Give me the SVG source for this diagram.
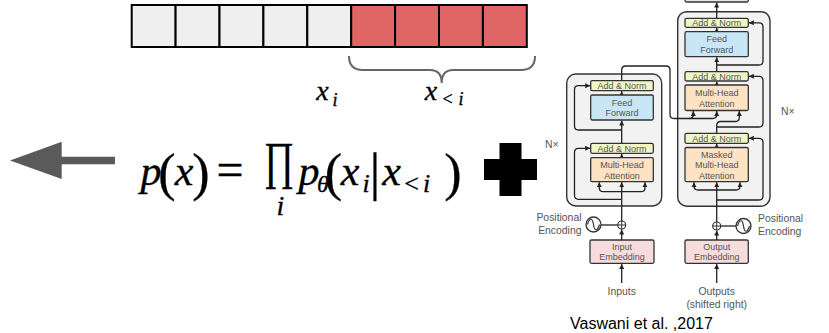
<svg xmlns="http://www.w3.org/2000/svg" width="829" height="333" viewBox="0 0 829 333">
<style>
.cell{stroke:#000;stroke-width:2}
.g{fill:#efefef}.r{fill:#e06666}
.outer{fill:#f2f2f2;stroke:#333;stroke-width:1.4}
.blk{stroke:#333;stroke-width:1.3}
.an{fill:#f1f6c6}.ff{fill:#c8e6f6}.mha{fill:#fde2c4}.emb{fill:#f8dcdc}.lin{fill:#e4e4f2}
.lbl{font-family:"Liberation Sans",Arial,sans-serif;font-size:9px;fill:#555;text-anchor:middle}
.side{font-family:"Liberation Sans",Arial,sans-serif;font-size:10.4px;fill:#555}
.m{font-family:"Liberation Serif","Times New Roman",serif;font-style:italic;fill:#000;stroke:#000;stroke-width:0.35;text-anchor:middle}
.rm{font-style:normal}
.ln{fill:none;stroke:#222;stroke-width:1.3}
.ar{fill:none;stroke:#222;stroke-width:1.3;marker-end:url(#ah)}
</style>
<defs>
<marker id="ah" markerUnits="userSpaceOnUse" markerWidth="6" markerHeight="6" refX="5" refY="3" orient="auto">
<path d="M0,0.5 L5,3 L0,5.5 z" fill="#222"/>
</marker>
</defs>

<g id="sequence">
<rect class="cell g" x="131.7" y="5" width="43.9" height="42"/>
<rect class="cell g" x="175.6" y="5" width="43.9" height="42"/>
<rect class="cell g" x="219.5" y="5" width="43.9" height="42"/>
<rect class="cell g" x="263.4" y="5" width="43.9" height="42"/>
<rect class="cell g" x="307.3" y="5" width="43.9" height="42"/>
<rect class="cell r" x="351.2" y="5" width="43.9" height="42"/>
<rect class="cell r" x="395.1" y="5" width="43.9" height="42"/>
<rect class="cell r" x="439" y="5" width="43.9" height="42"/>
<rect class="cell r" x="482.9" y="5" width="43.9" height="42"/>
</g>
<g id="brace">
<path d="M349,56 Q349,70 363,70 H430 Q441.7,70 441.7,83 Q441.7,70 453,70 H521 Q535,70 535,56" fill="none" stroke="#666" stroke-width="2"/>
</g>
<g id="labels-top">
<text class="m"><tspan x="322.5" y="100" font-size="28">x</tspan><tspan x="335" y="106" font-size="18">i</tspan></text>
<text class="m"><tspan x="431" y="100" font-size="28">x</tspan><tspan class="rm" x="447.5" y="105" font-size="18">&lt;</tspan><tspan x="461" y="105" font-size="18">i</tspan></text>
</g>

<g id="back-arrow">
<path d="M10,160.5 L61.7,141.7 L61.7,156.7 L115,156.7 L115,164.3 L61.7,164.3 L61.7,179 Z" fill="#5a5a5a"/>
</g>

<g id="formula">
<text class="m"><tspan x="151" y="185" font-size="42">p</tspan><tspan class="rm" x="167" y="190" font-size="52">(</tspan><tspan x="184" y="185" font-size="42">x</tspan><tspan class="rm" x="201" y="190" font-size="52">)</tspan><tspan class="rm" x="230" y="186" font-size="48">=</tspan><tspan x="280.5" y="215" font-size="28">i</tspan><tspan x="309" y="185" font-size="42">p</tspan><tspan x="323" y="192" font-size="24">θ</tspan><tspan class="rm" x="333.5" y="190" font-size="52">(</tspan><tspan x="350" y="185" font-size="42">x</tspan><tspan x="366" y="192" font-size="26">i</tspan><tspan class="rm" x="375" y="190" font-size="52">|</tspan><tspan x="391.7" y="185" font-size="42">x</tspan><tspan class="rm" x="411.5" y="192" font-size="26">&lt;</tspan><tspan x="426.7" y="192" font-size="26">i</tspan><tspan class="rm" x="453" y="190" font-size="52">)</tspan></text>
<text class="m rm" x="264" y="178" font-size="52" textLength="30" lengthAdjust="spacingAndGlyphs" style="text-anchor:start">∏</text>
</g>

<g id="plus-sign">
<path d="M499.5,143 H521.5 V159 H537 V180 H521.5 V196 H499.5 V180 H484 V159 H499.5 Z" fill="#000"/>
</g>

<g id="encoder">
<rect class="outer" x="566.7" y="74" width="95" height="132" rx="9"/>
</g>
<g id="decoder">
<rect class="outer" x="677.7" y="11.7" width="92.3" height="194.5" rx="9"/>
</g>

<g id="connectors">
<path class="ar" d="M621.7,283 V264"/>
<path class="ar" d="M621.7,240 V229.5"/>
<path class="ln" d="M601,225 H617.7"/>
<path class="ar" d="M621.7,221 V182.2"/>
<path class="ar" d="M621.7,191.7 H603.3 Q599.3,191.7 599.3,187.7 V182.2"/>
<path class="ar" d="M621.7,191.7 H641 Q645,191.7 645,187.7 V182.2"/>
<path class="ar" d="M621.7,199.3 H578.5 Q574.5,199.3 574.5,195.3 V152.3 Q574.5,148.3 578.5,148.3 H590.2"/>
<path class="ar" d="M621.7,157.7 V153.8"/>
<path class="ar" d="M621.7,143.3 V120.5"/>
<path class="ar" d="M621.7,130 H578.5 Q574.5,130 574.5,126 V89.7 Q574.5,85.7 578.5,85.7 H590.2"/>
<path class="ar" d="M621.7,95 V91.2"/>
<path class="ar" d="M621.7,80.7 V70 Q621.7,66 625.7,66 H666 Q670,66 670,70 V114.5 Q670,118.5 674,118.5 H689.3 Q693.3,118.5 693.3,114.5 V111"/>
<path class="ar" d="M689,118.5 H712.7 Q716.7,118.5 716.7,114.5 V111"/>

<path class="ar" d="M716.7,283 V264"/>
<path class="ar" d="M716.7,240 V230.5"/>
<path class="ln" d="M736,226 H720.7"/>
<path class="ar" d="M716.7,222 V182.2"/>
<path class="ar" d="M716.7,190 H698 Q694,190 694,186 V182.2"/>
<path class="ar" d="M716.7,190 H736 Q740,190 740,186 V182.2"/>
<path class="ar" d="M716.7,200 H759 Q763,200 763,196 V142.3 Q763,138.3 759,138.3 H748.8"/>
<path class="ar" d="M716.7,147.5 V143.8"/>
<path class="ar" d="M716.7,133.3 V125.5 Q716.7,121.5 720.7,121.5 H735.3 Q739.3,121.5 739.3,117.5 V111"/>
<path class="ar" d="M716.7,127 H759 Q763,127 763,123 V80.3 Q763,76.3 759,76.3 H748.8"/>
<path class="ar" d="M716.7,85 V81.5"/>
<path class="ar" d="M716.7,71.7 V57.2"/>
<path class="ar" d="M716.7,65 H759 Q763,65 763,61 V26.8 Q763,22.8 759,22.8 H748.8"/>
<path class="ar" d="M716.7,31.7 V27.8"/>
<path class="ar" d="M716.7,18.3 V2.5"/>
</g>

<g id="enc-addnorm-2"><rect class="blk an" x="590.7" y="80.7" width="62.6" height="10" rx="1.5"/><text class="lbl" x="622" y="89">Add &amp; Norm</text></g>
<g id="enc-feedforward"><rect class="blk ff" x="590.7" y="95" width="62.6" height="25" rx="1.5"/><text class="lbl" x="622" y="105.5">Feed</text><text class="lbl" x="622" y="116.3">Forward</text></g>
<g id="enc-addnorm-1"><rect class="blk an" x="590.7" y="143.3" width="62.6" height="10" rx="1.5"/><text class="lbl" x="622" y="151.6">Add &amp; Norm</text></g>
<g id="enc-mha"><rect class="blk mha" x="590.7" y="157.7" width="62.6" height="24" rx="1.5"/><text class="lbl" x="622" y="167.6">Multi-Head</text><text class="lbl" x="622" y="178.5">Attention</text></g>
<g id="input-embedding"><rect class="blk emb" x="590" y="240" width="64" height="23.3" rx="1.5"/><text class="lbl" x="622" y="249.8">Input</text><text class="lbl" x="622" y="259.6">Embedding</text></g>
<g id="enc-posenc">
<circle cx="593.5" cy="224.5" r="7.5" fill="#fff" stroke="#333" stroke-width="1.3"/>
<path d="M587.5,224.5 C589.5,217.5 592.5,217.5 593.5,224.5 C594.5,231.5 597.5,231.5 599.5,224.5" fill="none" stroke="#333" stroke-width="1.2"/>
<circle cx="621.7" cy="225" r="4" fill="#fff" stroke="#333" stroke-width="1.2"/>
<path d="M617.7,225 H625.7 M621.7,221 V229" stroke="#333" stroke-width="1"/>
</g>

<g id="linear"><rect class="blk lin" x="685" y="-12" width="63.3" height="14" rx="1.5"/></g>
<g id="dec-addnorm-3"><rect class="blk an" x="685" y="18.3" width="63.3" height="9" rx="1.5"/><text class="lbl" x="716.7" y="26.1">Add &amp; Norm</text></g>
<g id="dec-feedforward"><rect class="blk ff" x="685" y="31.7" width="63.3" height="25" rx="1.5"/><text class="lbl" x="716.7" y="42.2">Feed</text><text class="lbl" x="716.7" y="53">Forward</text></g>
<g id="dec-addnorm-2"><rect class="blk an" x="685" y="71.7" width="63.3" height="9.3" rx="1.5"/><text class="lbl" x="716.7" y="79.6">Add &amp; Norm</text></g>
<g id="dec-mha"><rect class="blk mha" x="685" y="85" width="63.3" height="25.5" rx="1.5"/><text class="lbl" x="716.7" y="96">Multi-Head</text><text class="lbl" x="716.7" y="107">Attention</text></g>
<g id="dec-addnorm-1"><rect class="blk an" x="685" y="133.3" width="63.3" height="10" rx="1.5"/><text class="lbl" x="716.7" y="141.6">Add &amp; Norm</text></g>
<g id="dec-masked-mha"><rect class="blk mha" x="685" y="147.5" width="63.3" height="34.2" rx="1.5"/><text class="lbl" x="716.7" y="157.5">Masked</text><text class="lbl" x="716.7" y="168.4">Multi-Head</text><text class="lbl" x="716.7" y="179.2">Attention</text></g>
<g id="output-embedding"><rect class="blk emb" x="685" y="240" width="63.3" height="23.3" rx="1.5"/><text class="lbl" x="716.7" y="249.8">Output</text><text class="lbl" x="716.7" y="259.6">Embedding</text></g>
<g id="dec-posenc">
<circle cx="743.5" cy="226" r="7.5" fill="#fff" stroke="#333" stroke-width="1.3"/>
<path d="M737.5,226 C739.5,219 742.5,219 743.5,226 C744.5,233 747.5,233 749.5,226" fill="none" stroke="#333" stroke-width="1.2"/>
<circle cx="716.7" cy="226" r="4" fill="#fff" stroke="#333" stroke-width="1.2"/>
<path d="M712.7,226 H720.7 M716.7,222 V230" stroke="#333" stroke-width="1"/>
</g>

<g id="side-labels">
<text class="side" x="581.5" y="221" text-anchor="end">Positional</text>
<text class="side" x="581.5" y="234" text-anchor="end">Encoding</text>
<text class="side" x="758" y="221.5">Positional</text>
<text class="side" x="758" y="234.5">Encoding</text>
<text class="side" x="545" y="148">N×</text>
<text class="side" x="781" y="115">N×</text>
<text class="side" x="621.7" y="295" text-anchor="middle">Inputs</text>
<text class="side" x="716.7" y="295" text-anchor="middle">Outputs</text>
<text class="side" x="716.7" y="307.5" text-anchor="middle">(shifted right)</text>
</g>
<g id="citation">
<text x="570" y="329" font-family="'Liberation Sans',Arial,sans-serif" font-size="16" fill="#000">Vaswani et al. ,2017</text>
</g>
</svg>
